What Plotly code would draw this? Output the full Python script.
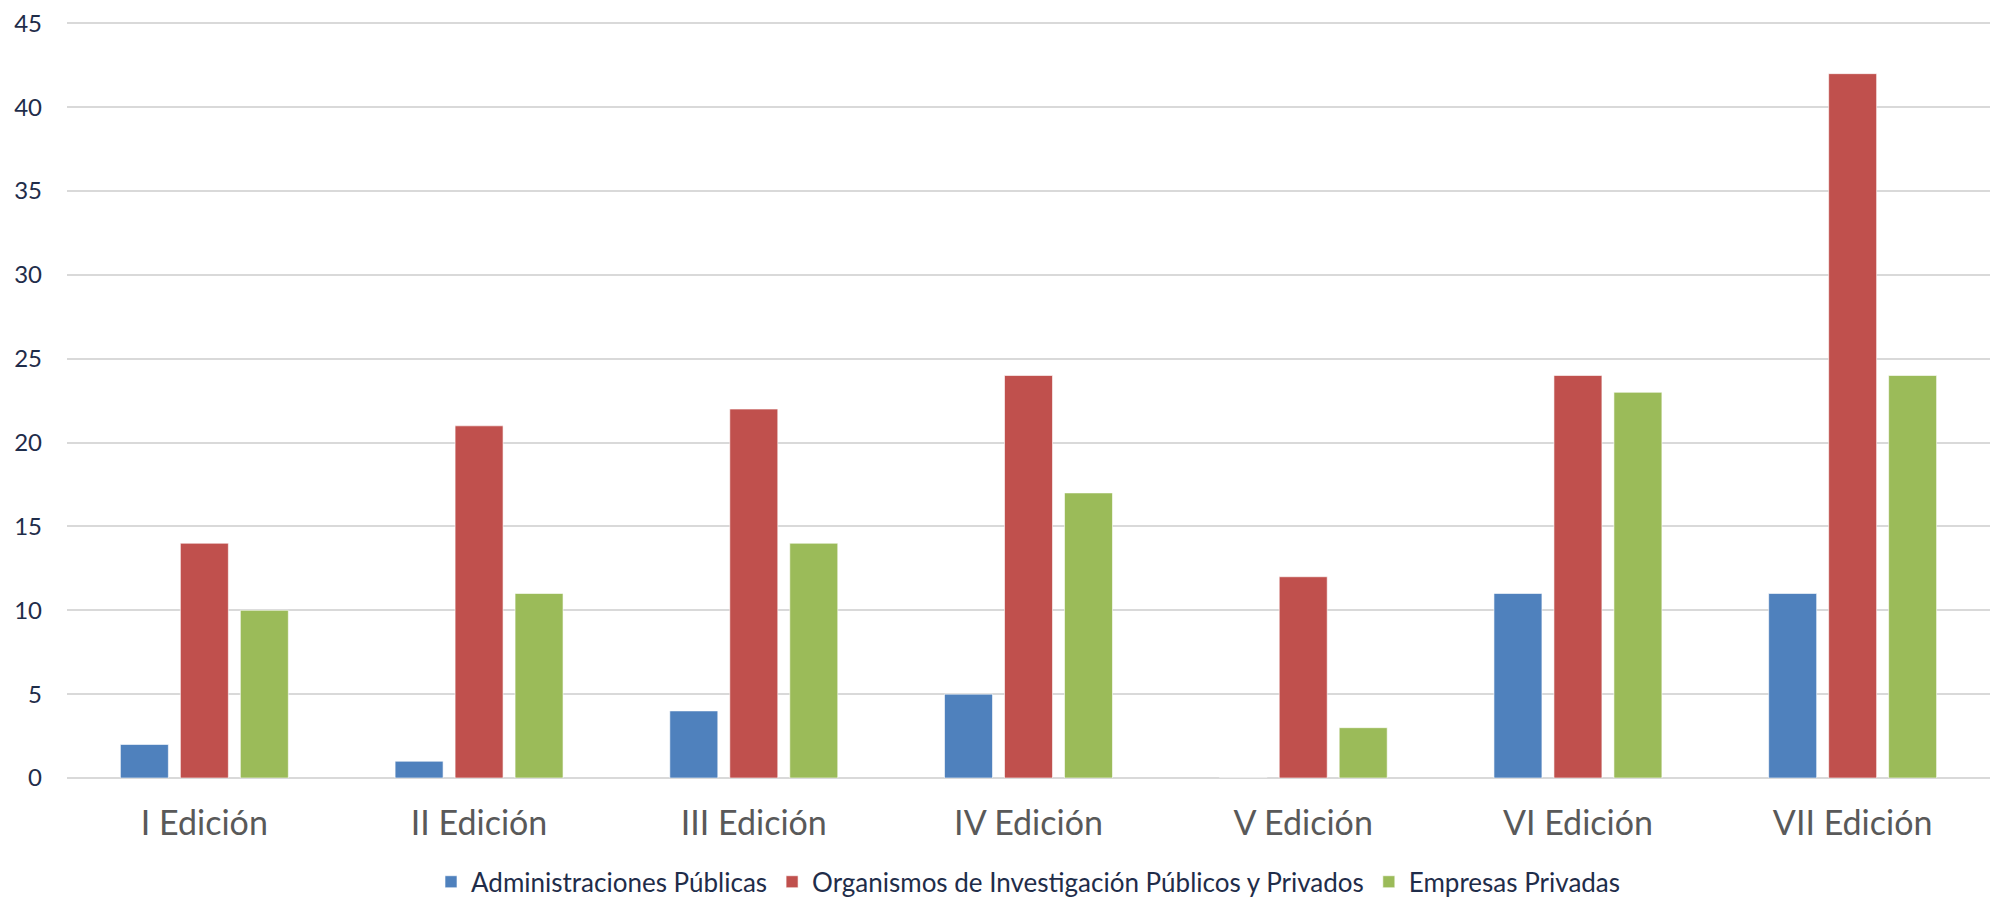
import plotly.graph_objects as go

categories = ["I Edición", "II Edición", "III Edición", "IV Edición", "V Edición", "VI Edición", "VII Edición"]
admin = [2, 1, 4, 5, 0, 11, 11]
organismos = [14, 21, 22, 24, 12, 24, 42]
empresas = [10, 11, 14, 17, 3, 23, 24]
series_names = ["Administraciones Públicas", "Organismos de Investigación Públicos y Privados", "Empresas Privadas"]
colors = ["#4F81BD", "#C0504D", "#9BBB59"]
y_ticks = [0, 5, 10, 15, 20, 25, 30, 35, 40, 45]

fig = go.Figure()
for name, vals, col in zip(series_names, [admin, organismos, empresas], colors):
    fig.add_trace(go.Bar(
        x=categories, y=vals, name=name,
        marker=dict(color=col, line=dict(color="rgba(255,255,255,0.6)", width=1)),
    ))

fig.update_layout(
    width=1995, height=891,
    barmode="group", bargap=0.345, bargroupgap=0.2,
    plot_bgcolor="white", paper_bgcolor="white",
    margin=dict(l=59, r=13, t=12, b=121, autoexpand=False),
    font=dict(family="Lato", color="#1F2D4A"),
    legend=dict(orientation="h", x=0.5, xanchor="center", y=-0.137, yanchor="middle",
                font=dict(size=26, color="#1F2D4A"), traceorder="normal"),
    xaxis=dict(tickfont=dict(size=34, color="#595959"), showgrid=False, showline=False,
               ticks="", ticklabelstandoff=22, automargin=False),
    yaxis=dict(range=[0, 45.2], tickmode="array", tickvals=y_ticks,
               tickfont=dict(size=24, color="#1F2D4A"), ticklabeloverflow="allow",
               gridcolor="#D9D9D9", gridwidth=1.5, zeroline=True, zerolinecolor="#D9D9D9",
               zerolinewidth=1.5, showline=False, ticks="", ticklabelstandoff=24,
               automargin=False),
)

fig.write_html("out.html")
